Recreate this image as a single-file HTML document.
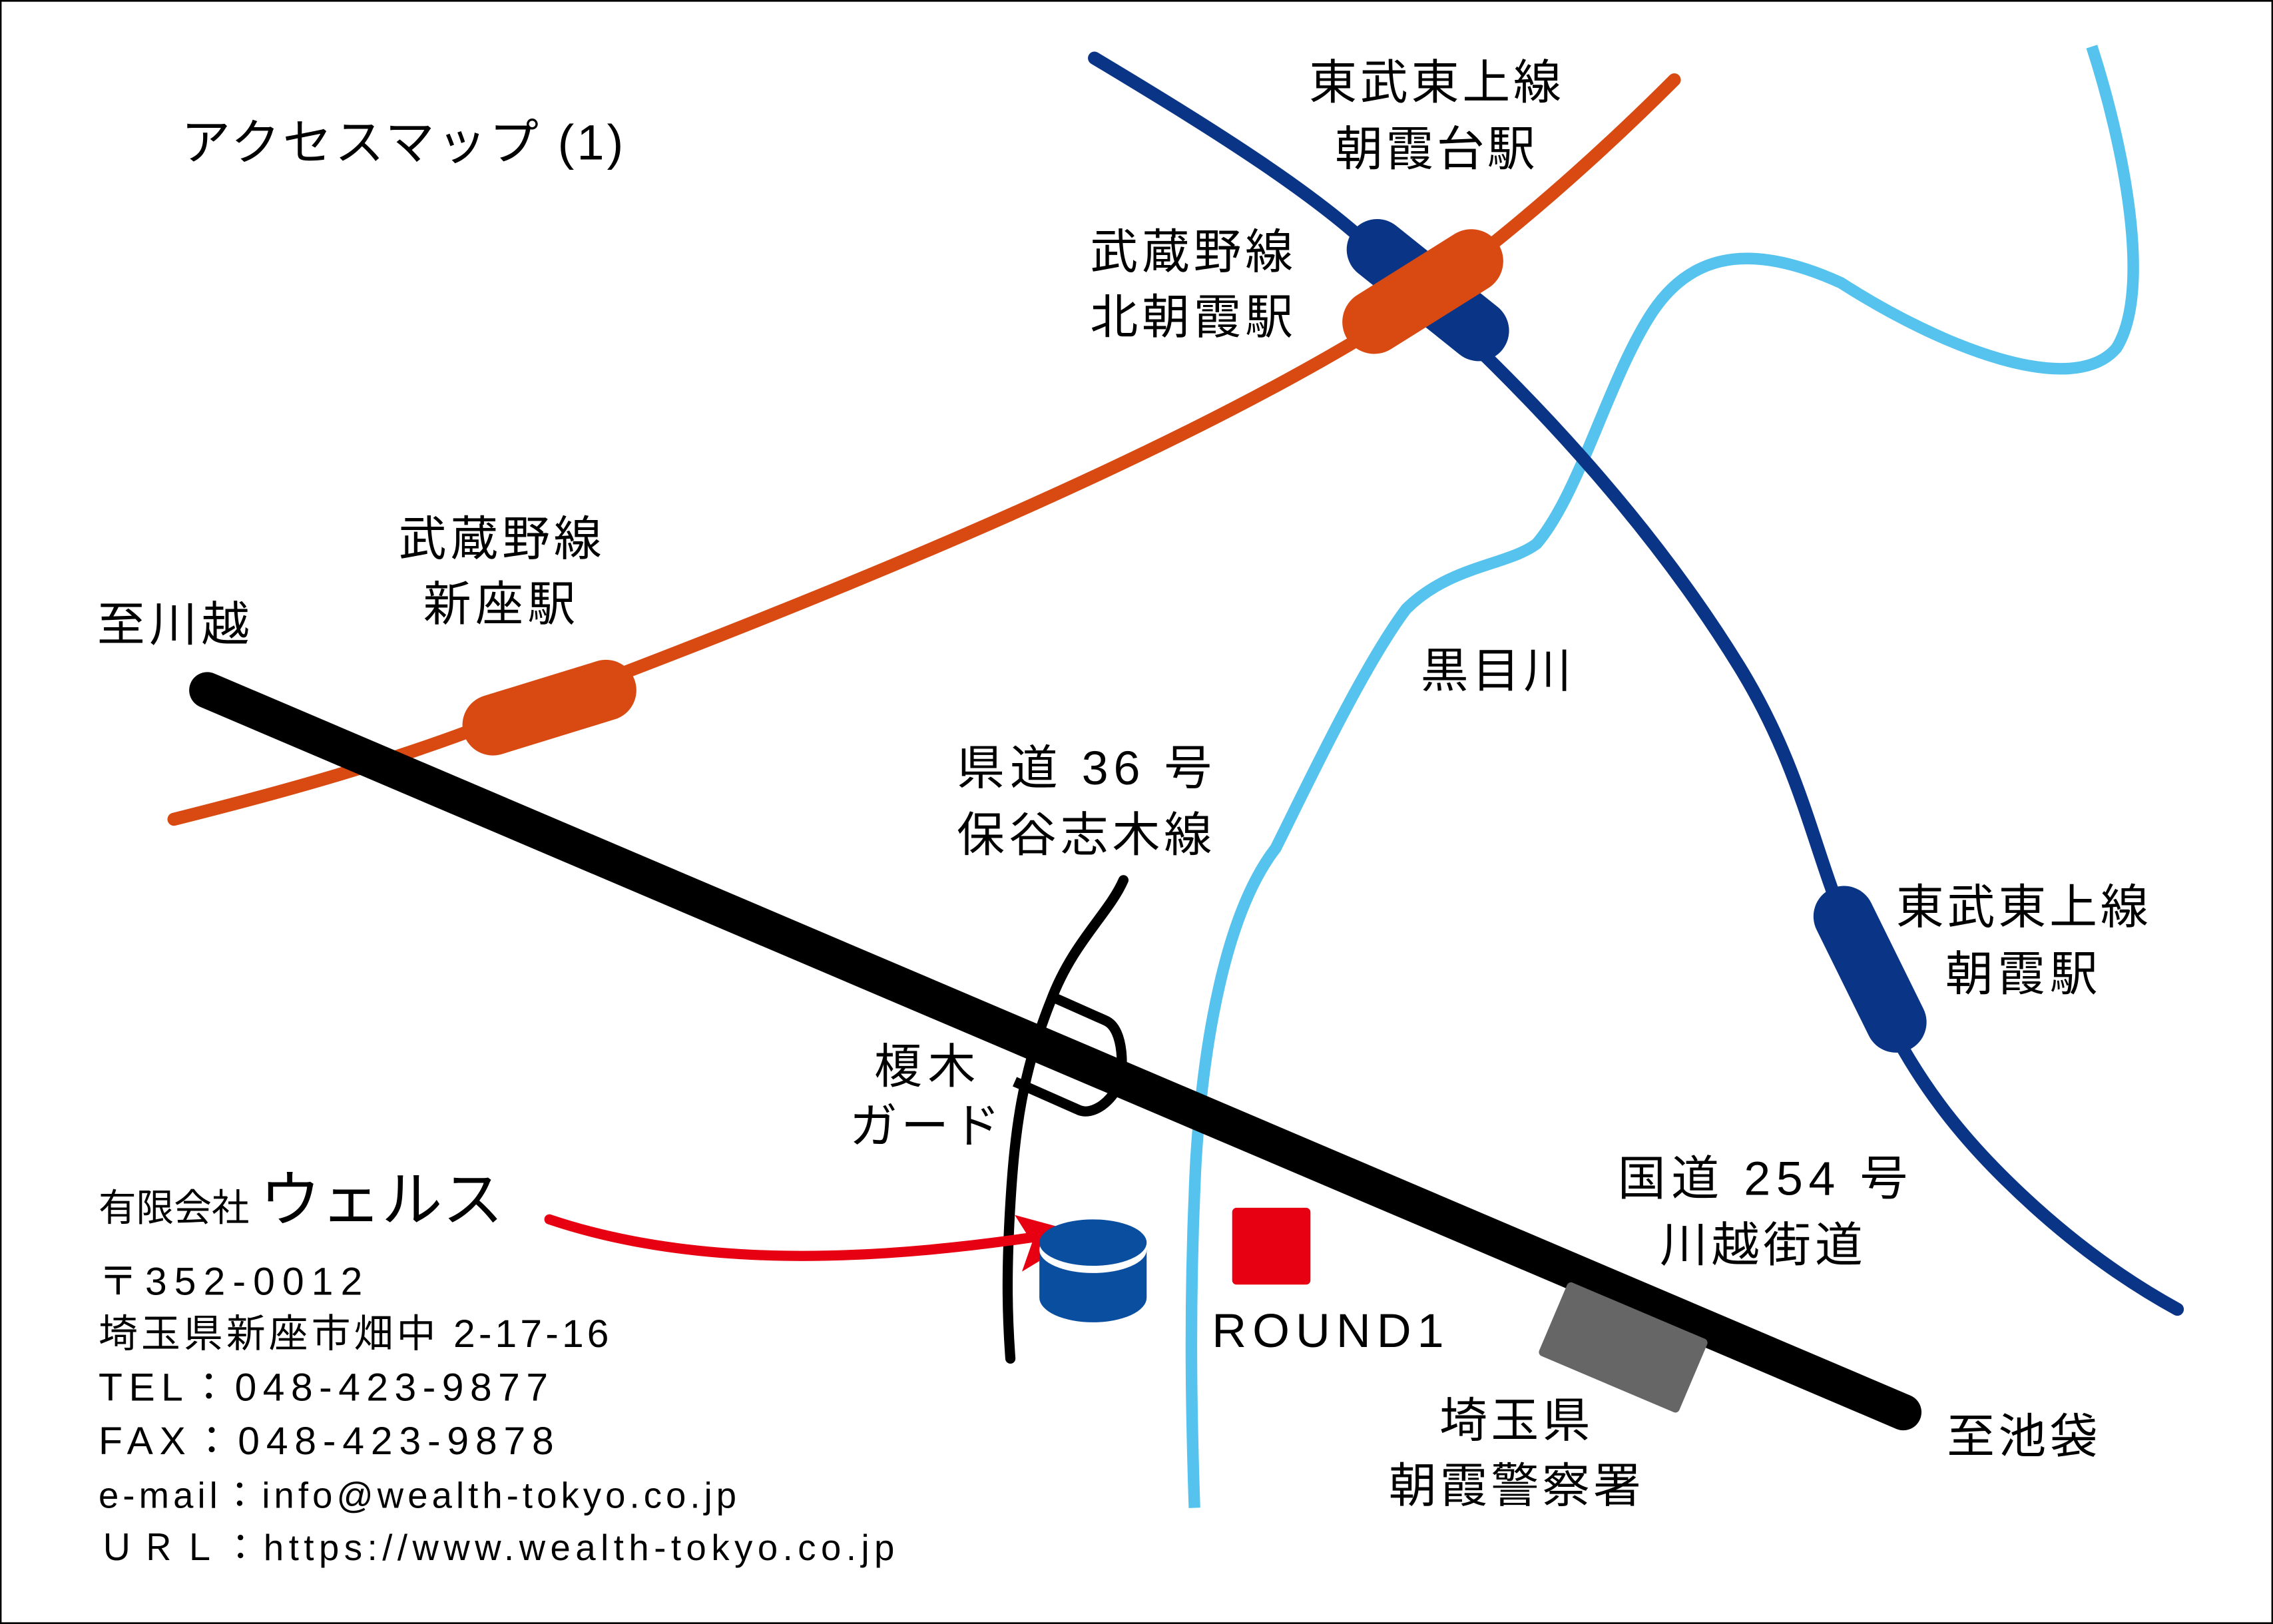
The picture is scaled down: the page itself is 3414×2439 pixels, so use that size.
<!DOCTYPE html>
<html><head><meta charset="utf-8"><style>
html,body{margin:0;padding:0;background:#fff}
svg{display:block}
text{font-family:"Liberation Sans","Noto Sans CJK JP",sans-serif;fill:#000}
</style></head><body>
<svg width="3414" height="2439" viewBox="0 0 1568 1120" xmlns="http://www.w3.org/2000/svg">
<rect x="0.5" y="0.5" width="1567" height="1119" fill="#fff" stroke="#000" stroke-width="1.2"/>
<path d="M1443,32 C1465,100 1485,200 1460,240 C1430,275 1340,240 1270,195 C1215,170 1170,170 1140,215 C1110,260 1090,340 1060,375 C1040,390 1000,390 970,420 C940,460 900,545 880,585 C845,630 830,720 825,800 C820,900 822,980 824,1040" fill="none" stroke="#55c3ee" stroke-width="8"/>
<path d="M755,40 C830,85 920,140 960,185 C1010,230 1120,330 1200,460 C1240,525 1250,580 1270,630 C1300,710 1330,760 1380,810 C1420,850 1460,880 1502,903" fill="none" stroke="#0a3587" stroke-width="9" stroke-linecap="round"/>
<line x1="950" y1="172" x2="1020" y2="228" stroke="#0a3587" stroke-width="42" stroke-linecap="round"/>
<line x1="1272" y1="632" x2="1308" y2="705" stroke="#0a3587" stroke-width="42" stroke-linecap="round"/>
<path d="M120,565 C200,545 270,525 335,500 C550,420 800,320 960,220 C1040,165 1110,100 1155,55" fill="none" stroke="#d94a12" stroke-width="9" stroke-linecap="round"/>
<line x1="340" y1="500" x2="418" y2="476" stroke="#d94a12" stroke-width="42" stroke-linecap="round"/>
<line x1="948" y1="222" x2="1015" y2="180" stroke="#d94a12" stroke-width="44" stroke-linecap="round"/>
<line x1="143" y1="476" x2="1313" y2="974" stroke="#000" stroke-width="25" stroke-linecap="round"/>
<path d="M775,607 C765,630 740,650 725,690 C705,740 700,780 697,830 C694,880 695,910 697,937" fill="none" stroke="#000" stroke-width="7" stroke-linecap="round"/>
<path d="M727,688 L763,704 C776,710 775,740 772,748 C765,762 752,770 743,765 L700,746" fill="none" stroke="#000" stroke-width="7"/>
<path d="M379,841 C480,875 600,870 715,853" fill="none" stroke="#e60012" stroke-width="7" stroke-linecap="round"/>
<polygon points="700,838 748,851 705,877 712,857" fill="#e60012"/>
<path d="M717,862 L717,895 A37,17 0 0 0 791,895 L791,862 Z" fill="#0a4ea0"/>
<ellipse cx="754" cy="862" rx="37" ry="16" fill="#fff"/>
<ellipse cx="754" cy="857" rx="37" ry="16" fill="#0a4ea0"/>
<rect x="850" y="833" width="54" height="53" rx="3" fill="#e60012"/>
<rect x="1067" y="902" width="105" height="55" rx="3" fill="#666" transform="rotate(23 1120 930)"/>
<text x="125" y="110" font-size="34" textLength="305" lengthAdjust="spacing">アクセスマップ (1)</text>
<g font-size="33" lengthAdjust="spacing">
<text x="903" y="68" textLength="174">東武東上線</text><text x="921" y="114" textLength="138">朝霞台駅</text>
<text x="752" y="185" textLength="140">武蔵野線</text><text x="752" y="230" textLength="140">北朝霞駅</text>
<text x="275" y="383" textLength="140">武蔵野線</text><text x="292" y="428" textLength="105">新座駅</text>
<text x="1308" y="637" textLength="174">東武東上線</text><text x="1342" y="683" textLength="105">朝霞駅</text>
<text x="660" y="541" textLength="176">県道 36 号</text><text x="660" y="587" textLength="176">保谷志木線</text>
<text x="603" y="747" textLength="70">榎木</text><text x="586" y="788" textLength="104">ガード</text>
<text x="1116" y="824" textLength="200">国道 254 号</text><text x="1145" y="870" textLength="140">川越街道</text>
<text x="993" y="991" textLength="104">埼玉県</text><text x="958" y="1036" textLength="174">朝霞警察署</text>
<text x="980" y="474" textLength="104">黒目川</text>
<text x="67" y="442" textLength="105">至川越</text>
<text x="1343" y="1002" textLength="104">至池袋</text>
<text x="836" y="929" textLength="160">ROUND1</text>
</g>
<text x="68" y="842" font-size="26">有限会社 <tspan font-size="42">ウェルス</tspan></text>
<g font-size="27" lengthAdjust="spacing">
<text x="68" y="893" textLength="182">〒352-0012</text>
<text x="68" y="929" textLength="352">埼玉県新座市畑中 2-17-16</text>
<text x="68" y="966" textLength="310">TEL：048-423-9877</text>
<text x="68" y="1003" textLength="314">FAX：048-423-9878</text>
<text x="68" y="1040" font-size="25" textLength="440">e-mail：info@wealth-tokyo.co.jp</text>
<text x="68" y="1076" font-size="25" textLength="549">ＵＲＬ：https://www.wealth-tokyo.co.jp</text>
</g>
</svg>
</body></html>
